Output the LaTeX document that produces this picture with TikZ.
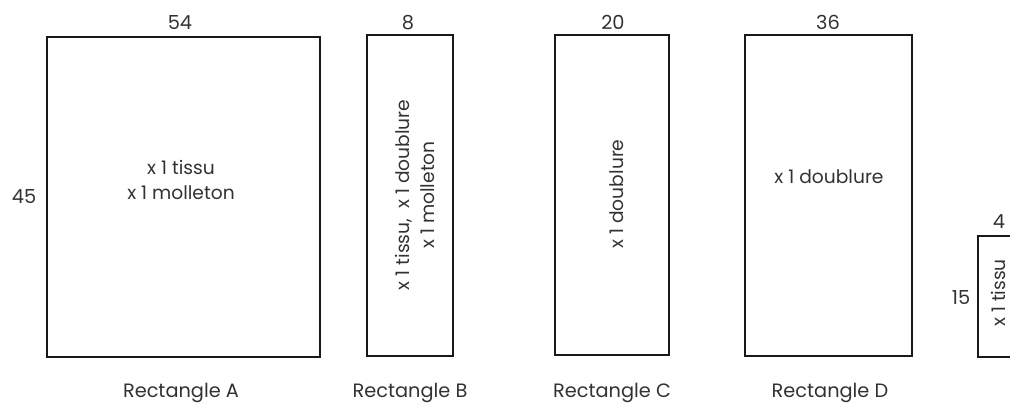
\documentclass[tikz,border=0pt]{standalone}
\usepackage{fontspec}
\setmainfont{Poppins}
\definecolor{inkline}{RGB}{25,25,25}
\definecolor{inktext}{RGB}{50,50,50}
\tikzset{
  cutline/.style={draw=inkline, line width=1.5},
  dimtxt/.style={text=inktext, font=\fontsize{14.5}{17}\selectfont, inner sep=0pt},
  qtytxt/.style={text=inktext, font=\fontsize{14}{19}\selectfont, inner sep=0pt, align=center},
}
\begin{document}
\begin{tikzpicture}[x=0.75pt,y=0.75pt,yscale=-1,xscale=1]
%uncomment if require: \path (0,403); %set diagram left start at 0, and has height of 403
\useasboundingbox (0,0) rectangle (1010,403);

%Shape: Rectangle [id:dp7130291845502217] 
\draw [cutline] (47,37) -- (320,37) -- (320,357) -- (47,357) -- cycle ;
%Shape: Rectangle [id:dp2284660751903148] 
\draw [cutline] (367,35) -- (453,35) -- (453,356) -- (367,356) -- cycle ;
%Shape: Rectangle [id:dp5518203946671032] 
\draw [cutline] (555,35) -- (669,35) -- (669,355) -- (555,355) -- cycle ;
%Shape: Rectangle [id:dp0946128813375514] 
\draw [cutline] (745,35) -- (912,35) -- (912,356) -- (745,356) -- cycle ;
%Shape: Rectangle [id:dp8823017664139205] 
\draw [cutline] (978,236) -- (1024,236) -- (1024,357) -- (978,357) -- cycle ;

% Text Node
\draw (180,30) node [dimtxt, anchor=base] (wA) {54};
% Text Node
\draw (24,203) node [dimtxt, anchor=base] (hA) {45};
% Text Node
\draw (408,30) node [dimtxt, anchor=base] (wB) {8};
% Text Node
\draw (613,30) node [dimtxt, anchor=base] (wC) {20};
% Text Node
\draw (828,30) node [dimtxt, anchor=base] (wD) {36};
% Text Node
\draw (999,228) node [dimtxt, anchor=base] (wE) {4};
% Text Node
\draw (961,304) node [dimtxt, anchor=base] (hE) {15};

% Text Node
\draw (181,180) node [qtytxt] (qtyA) {x 1 tissu\\x 1 molleton};
% Text Node
\draw (415,195) node [qtytxt, rotate=90] (qtyB) {x 1 tissu,\ \ x 1 doublure\\x 1 molleton};
% Text Node
\draw (617,194) node [qtytxt, rotate=90] (qtyC) {x 1 doublure};
% Text Node
\draw (829,183) node [qtytxt, anchor=base] (qtyD) {x 1 doublure};
% Text Node
\draw (998,293) node [qtytxt, rotate=90] (qtyE) {x 1 tissu};

% Text Node
\draw (181,397) node [dimtxt, anchor=base] (nameA) {Rectangle A};
% Text Node
\draw (410,397) node [dimtxt, anchor=base] (nameB) {Rectangle B};
% Text Node
\draw (612,397) node [dimtxt, anchor=base] (nameC) {Rectangle C};
% Text Node
\draw (830,397) node [dimtxt, anchor=base] (nameD) {Rectangle D};

\end{tikzpicture}
\end{document}
